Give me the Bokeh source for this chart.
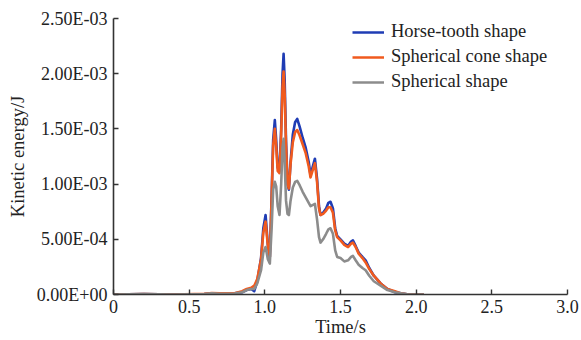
import numpy as np
from bokeh.plotting import figure
from bokeh.models import (Range1d, FixedTicker, CustomJSTickFormatter, Legend, LegendItem)
from bokeh.embed import file_html
from bokeh.resources import INLINE

# ---- data (time in s, kinetic energy in units of 1E-3 J) ----
time_s = [0, 0.2, 0.4, 0.6, 0.65, 0.7, 0.8, 0.85, 0.88, 0.91, 0.93, 0.95, 0.975, 0.99,
          1.005, 1.02, 1.033, 1.045, 1.055, 1.066, 1.075, 1.085, 1.097, 1.108, 1.117,
          1.124, 1.131, 1.14, 1.15, 1.159, 1.17, 1.185, 1.2, 1.214, 1.23, 1.25, 1.27,
          1.29, 1.302, 1.315, 1.331, 1.345, 1.358, 1.368, 1.385, 1.405, 1.42, 1.434,
          1.45, 1.465, 1.478, 1.5, 1.525, 1.55, 1.57, 1.582, 1.6, 1.62, 1.645, 1.666,
          1.69, 1.72, 1.765, 1.81, 1.86, 1.9, 1.95, 2.05]

horse_tooth_mJ = [0, 0.005, 0.0, 0.005, 0.012, 0.008, 0.01, 0.02, 0.04, 0.05, 0.03, 0.12,
                  0.33, 0.6, 0.72, 0.45, 0.34, 0.9, 1.4, 1.58, 1.4, 1.15, 1.12, 1.5, 2.0,
                  2.18, 1.95, 1.4, 1.0, 0.95, 1.2, 1.45, 1.56, 1.59, 1.52, 1.42, 1.33,
                  1.2, 1.08, 1.15, 1.23, 1.05, 0.8, 0.72, 0.74, 0.78, 0.83, 0.84,
                  0.78, 0.6, 0.53, 0.5, 0.46, 0.44, 0.48, 0.49, 0.44, 0.38, 0.34, 0.31,
                  0.24, 0.17, 0.1, 0.05, 0.02, 0.01, 0.0, 0.0]

spherical_cone_mJ = [0, 0.005, 0.0, 0.006, 0.014, 0.01, 0.012, 0.03, 0.05, 0.06, 0.08, 0.14,
                     0.32, 0.56, 0.66, 0.44, 0.34, 0.88, 1.35, 1.5, 1.34, 1.12, 1.1, 1.45, 1.88,
                     2.02, 1.82, 1.35, 1.0, 0.96, 1.18, 1.38, 1.47, 1.49, 1.44, 1.36, 1.28,
                     1.16, 1.06, 1.12, 1.19, 1.02, 0.78, 0.72, 0.73, 0.76, 0.79, 0.79,
                     0.74, 0.58, 0.52, 0.49, 0.45, 0.43, 0.46, 0.47, 0.43, 0.37, 0.33, 0.29,
                     0.23, 0.17, 0.1, 0.05, 0.03, 0.01, 0.0, 0.0]

spherical_mJ = [0, 0.004, 0.0, 0.004, 0.01, 0.006, 0.008, 0.02, 0.04, 0.05, 0.05, 0.1,
                0.22, 0.38, 0.43, 0.32, 0.28, 0.6, 0.95, 1.02, 0.98, 0.8, 0.72, 1.0, 1.33,
                1.41, 1.2, 0.85, 0.73, 0.72, 0.85, 0.97, 1.02, 1.03, 0.99, 0.93, 0.88,
                0.83, 0.8, 0.81, 0.82, 0.68, 0.52, 0.47, 0.5, 0.55, 0.59, 0.6,
                0.55, 0.4, 0.34, 0.33, 0.3, 0.31, 0.34, 0.35, 0.31, 0.27, 0.24, 0.22,
                0.17, 0.12, 0.08, 0.04, 0.02, 0.01, 0.0, 0.0]

x_ticks = [0, 0.5, 1.0, 1.5, 2.0, 2.5, 3.0]
y_ticks_mJ = [0, 0.5, 1.0, 1.5, 2.0, 2.5]

series_names = ["Horse-tooth shape", "Spherical cone shape", "Spherical shape"]
colors = ["#1f3cb4", "#f05a1e", "#8c8c8c"]

FONT = "Liberation Serif"

p = figure(width=581, height=340, output_backend="svg", toolbar_location=None,
           x_range=Range1d(0, 3.0), y_range=Range1d(0, 2.5e-3),
           min_border_left=113, min_border_right=14, min_border_top=18, min_border_bottom=46)
p.outline_line_color = None
p.grid.visible = False
p.background_fill_color = "white"
p.border_fill_color = "white"

t = np.array(time_s)
renderers = []
for vals, col in zip([horse_tooth_mJ, spherical_cone_mJ, spherical_mJ], colors):
    r = p.line(t, np.array(vals) * 1e-3, line_color=col, line_width=2.6, line_join="round")
    renderers.append(r)

legend = Legend(items=[LegendItem(label=n, renderers=[r]) for n, r in zip(series_names, renderers)],
                location=(239, 202), border_line_color=None, background_fill_alpha=0,
                glyph_width=32, glyph_height=20, label_height=20, spacing=4, padding=0, margin=0,
                label_standoff=7, label_text_font=FONT, label_text_font_size="18.5px",
                label_text_color="#222222")
p.add_layout(legend)

xa = p.xaxis[0]
xa.ticker = FixedTicker(ticks=x_ticks)
xa.formatter = CustomJSTickFormatter(code="return tick == 0 ? '0' : tick.toFixed(1);")
xa.axis_label = "Time/s"
ya = p.yaxis[0]
ya.ticker = FixedTicker(ticks=[v * 1e-3 for v in y_ticks_mJ])
ya.formatter = CustomJSTickFormatter(code="""
if (Math.abs(tick) < 1e-12) return '0.00E+00';
const s = tick.toExponential(2).toUpperCase();
const parts = s.split('E');
const e = parts[1];
const sign = e[0] == '-' ? '-' : '+';
let d = e.replace('-', '').replace('+', '');
if (d.length < 2) d = '0' + d;
return parts[0] + 'E' + sign + d;
""")
ya.axis_label = "Kinetic energy/J"

for ax in (xa, ya):
    ax.axis_line_color = "#333333"
    ax.axis_line_width = 1.6
    ax.major_tick_line_color = "#333333"
    ax.major_tick_line_width = 1.4
    ax.major_tick_in = 5
    ax.major_tick_out = 0
    ax.minor_tick_line_color = None
    ax.major_label_text_font = FONT
    ax.major_label_text_font_size = "18px"
    ax.major_label_text_color = "#222222"
    ax.axis_label_text_font = FONT
    ax.axis_label_text_font_size = "18.5px"
    ax.axis_label_text_font_style = "normal"
    ax.axis_label_text_color = "#222222"
xa.major_label_standoff = 5
xa.axis_label_standoff = 1
ya.major_label_standoff = 6
ya.axis_label_standoff = 6

open("out.html", "w").write(file_html(p, INLINE))
